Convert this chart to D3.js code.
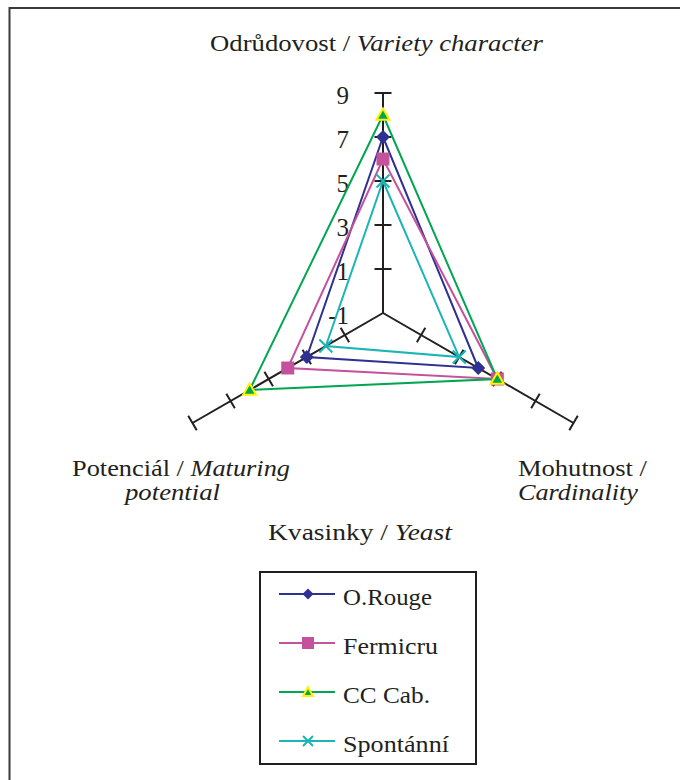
<!DOCTYPE html>
<html>
<head>
<meta charset="utf-8">
<script src="https://cdn.jsdelivr.net/npm/d3@7"></script>
<style>
  html, body { margin: 0; padding: 0; background: #fff; }
  svg { display: block; }
  svg text { font-family: "Liberation Serif", Tinos, "Times New Roman", Times, "DejaVu Serif", serif; fill: #231f20; }
</style>
</head>
<body>
<svg id="chart" width="680" height="780"></svg>
<script>
// ---- data ----
const categories = ["Odrůdovost", "Mohutnost", "Potenciál"];
const categoriesEn = ["Variety character", "Cardinality", "Maturing potential"];
const seriesNames = ["O.Rouge", "Fermicru", "CC Cab.", "Spontánní"];
const oRouge    = [7, 4, 3];
const fermicru  = [6, 5, 4];
const ccCab     = [8, 5, 6];
const spontanni = [5, 3, 2];
const tickValues = [-1, 1, 3, 5, 7, 9];
const extraLabel = ["Kvasinky", "Yeast"];

const seriesValues = [oRouge, fermicru, ccCab, spontanni];
const colors = ["#2e3192", "#c4519c", "#00a651", "#1cb5b5"];
const markers = ["diamond", "square", "triangle", "x"];
const FONT = '"Liberation Serif", Tinos, "Times New Roman", Times, "DejaVu Serif", serif';

const svg = d3.select("#chart");
const cx = 383, cy = 313, R = 220;
const r = d3.scaleLinear().domain([-1, 9]).range([0, R]);
// three axes at -90, 30, 150 degrees
const ang = c => (-90 + 120 * categories.indexOf(c)) * Math.PI / 180;
const pt = (c, v) => [cx + r(v) * Math.cos(ang(c)), cy + r(v) * Math.sin(ang(c))];

// outer frame
svg.append("path")
  .attr("d", `M9.5,790 L9.5,8 L690,8`)
  .attr("fill", "none").attr("stroke", "#3a3a3a").attr("stroke-width", 2);

// axes
const axisG = svg.append("g");
categories.forEach(c => {
  const a = ang(c);
  const [x2, y2] = pt(c, 9);
  axisG.append("line").attr("x1", cx).attr("y1", cy).attr("x2", x2).attr("y2", y2)
    .attr("stroke", "#231f20").attr("stroke-width", 2);
  tickValues.filter(t => t > -1).forEach(t => {
    const [tx, ty] = pt(c, t);
    const px = -Math.sin(a), py = Math.cos(a);
    const h = 8.5;
    axisG.append("line")
      .attr("x1", tx - px * h).attr("y1", ty - py * h)
      .attr("x2", tx + px * h).attr("y2", ty + py * h)
      .attr("stroke", "#231f20").attr("stroke-width", 2);
  });
});

// tick labels on first axis
svg.append("g").selectAll("text").data(tickValues).join("text")
  .attr("x", 349)
  .attr("y", d => pt(categories[0], d)[1] + 11)
  .attr("text-anchor", "end")
  .attr("font-family", FONT)
  .attr("font-size", 25)
  .text(d => d);

// series
const line = d3.line().curve(d3.curveLinearClosed);
function drawMarker(g, type, x, y, color, s) {
  if (type === "diamond") {
    g.append("path").attr("d", d3.symbol(d3.symbolSquare, s * s / 2)())
      .attr("transform", `translate(${x},${y}) rotate(45)`).attr("fill", color);
  } else if (type === "square") {
    g.append("path").attr("d", d3.symbol(d3.symbolSquare, s * s)())
      .attr("transform", `translate(${x},${y})`).attr("fill", color);
  } else if (type === "triangle") {
    g.append("path").attr("d", d3.symbol(d3.symbolTriangle, s * s * 0.433)())
      .attr("transform", `translate(${x},${y + 1})`).attr("fill", color)
      .attr("stroke", "#fff200").attr("stroke-width", 2).attr("stroke-linejoin", "miter");
  } else {
    const h = s / 2;
    g.append("path").attr("d", `M${x - h},${y - h}L${x + h},${y + h}M${x - h},${y + h}L${x + h},${y - h}`)
      .attr("stroke", color).attr("stroke-width", 2).attr("fill", "none");
  }
}
const markerSize = [14, 13, 13, 13];
const seriesG = svg.append("g");
seriesValues.forEach((vals, i) => {
  const pts = vals.map((v, j) => pt(categories[j], v));
  seriesG.append("path").attr("d", line(pts))
    .attr("fill", "none").attr("stroke", colors[i]).attr("stroke-width", 2);
});
seriesValues.forEach((vals, i) => {
  vals.forEach((v, j) => {
    const [x, y] = pt(categories[j], v);
    drawMarker(seriesG, markers[i], x, y, colors[i], markerSize[i]);
  });
});

// axis labels (left x, baseline y, target width)
function twoPart(g, x, y, w, roman, italic) {
  const t = g.append("text").attr("x", x).attr("y", y)
    .attr("font-family", FONT).attr("font-size", 24)
    .attr("textLength", w).attr("lengthAdjust", "spacingAndGlyphs");
  if (roman) t.append("tspan").text(roman);
  if (italic) t.append("tspan").attr("font-style", "italic").text(italic);
}
const lg = svg.append("g");
twoPart(lg, 210, 51, 333, categories[0] + " / ", categoriesEn[0]);
twoPart(lg, 518, 476, 129, categories[1] + " /", null);
twoPart(lg, 518, 500, 120, null, categoriesEn[1]);
twoPart(lg, 72, 476, 218, categories[2] + " / ", "Maturing");
twoPart(lg, 125, 500, 95, null, "potential");
twoPart(lg, 268, 540, 184, extraLabel[0] + " / ", extraLabel[1]);

// legend
const leg = svg.append("g");
leg.append("rect").attr("x", 260).attr("y", 572).attr("width", 216).attr("height", 192)
  .attr("fill", "#fff").attr("stroke", "#231f20").attr("stroke-width", 2);
const legY = d3.scalePoint().domain(seriesNames).range([594, 741]);
const legMarker = [11, 12, 10, 10];
const legTextW = [89, 95, 87, 106];
seriesNames.forEach((n, i) => {
  const y = legY(n);
  leg.append("line").attr("x1", 279).attr("x2", 335).attr("y1", y).attr("y2", y)
    .attr("stroke", colors[i]).attr("stroke-width", 2);
  drawMarker(leg, markers[i], 308, y, colors[i], legMarker[i]);
  leg.append("text").attr("x", 343).attr("y", y + 11).attr("font-family", FONT)
    .attr("font-size", 23).attr("textLength", legTextW[i]).attr("lengthAdjust", "spacingAndGlyphs").text(n);
});
</script>
</body>
</html>
